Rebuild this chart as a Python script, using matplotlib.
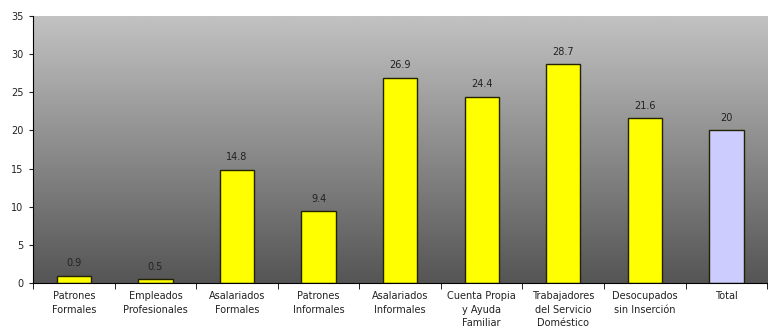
import matplotlib.pyplot as plt
import numpy as np
from matplotlib.colors import LinearSegmentedColormap

categorias = ['Patrones\nFormales', 'Empleados\nProfesionales', 'Asalariados\nFormales',
              'Patrones\nInformales', 'Asalariados\nInformales', 'Cuenta Propia\ny Ayuda\nFamiliar',
              'Trabajadores\ndel Servicio\nDoméstico', 'Desocupados\nsin Inserción', 'Total']
valores = [0.9, 0.5, 14.8, 9.4, 26.9, 24.4, 28.7, 21.6, 20]
etiquetas = ['0.9', '0.5', '14.8', '9.4', '26.9', '24.4', '28.7', '21.6', '20']
cores = ['#ffff00'] * 8 + ['#ccccff']

fig = plt.figure(figsize=(7.68, 3.29), dpi=100)
ax = fig.add_axes([0.043, 0.14, 0.956, 0.811])

# fundo em degrade (claro em cima, escuro embaixo)
cmap = LinearSegmentedColormap.from_list('fundo', ['#555555', '#c2c2c2'])
grad = np.linspace(0, 1, 256).reshape(-1, 1)
ax.imshow(grad, cmap=cmap, aspect='auto', origin='lower',
          extent=[0, 1, 0, 1], transform=ax.transAxes, zorder=0)

x = np.arange(len(categorias))
bars = ax.bar(x, valores, width=0.42, color=cores, edgecolor='#222200', linewidth=1.0, zorder=2)

for bar, txt in zip(bars, etiquetas):
    ax.text(bar.get_x() + bar.get_width() / 2, bar.get_height() + 1.0, txt,
            ha='center', va='bottom', fontsize=7, color='#222222', zorder=3)

ax.set_xlim(-0.5, len(categorias) - 0.5)
ax.set_ylim(0, 35)
ax.set_yticks(range(0, 36, 5))
ax.tick_params(axis='y', labelsize=7, length=3, colors='#222222', pad=4)

ax.set_xticks(x)
ax.set_xticklabels(categorias, fontsize=7, color='#222222', linespacing=1.45)
ax.tick_params(axis='x', which='major', length=0, pad=6)
ax.set_xticks(np.arange(-0.5, len(categorias) + 0.5, 1), minor=True)
ax.tick_params(axis='x', which='minor', length=4, color='black')

ax.spines['top'].set_visible(False)
ax.spines['right'].set_visible(False)
ax.spines['left'].set_color('black')
ax.spines['bottom'].set_color('black')

plt.savefig('out.png', dpi=100)
plt.close()
